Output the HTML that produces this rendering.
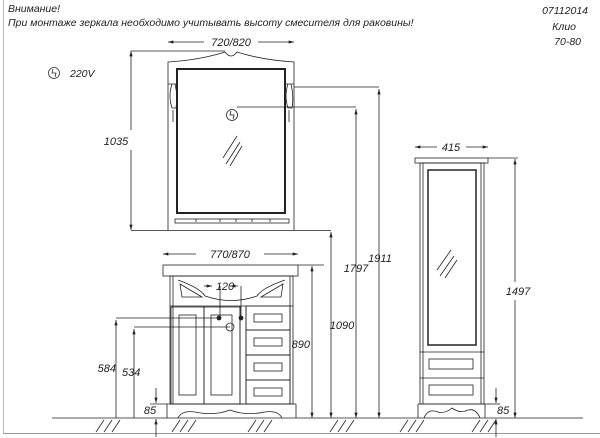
<!DOCTYPE html>
<html><head><meta charset="utf-8"><style>
html,body{margin:0;padding:0;background:#fff;}
svg{display:block}
text{font-family:"Liberation Sans",sans-serif;font-style:italic;fill:#222}
</style></head><body>
<svg width="600" height="438" viewBox="0 0 600 438" xmlns="http://www.w3.org/2000/svg">
<defs>
<marker id="a" viewBox="0 0 10 6" refX="10" refY="3" markerWidth="8" markerHeight="4" orient="auto-start-reverse"><path d="M0,0 L10,3 L0,6 z" fill="#222"/></marker>
</defs>
<line x1="3.5" y1="0" x2="3.5" y2="433" stroke="#bbb"/>
<line x1="3" y1="433.5" x2="600" y2="433.5" stroke="#999"/>
<text x="8" y="12" font-size="10.5">Внимание!</text>
<text x="8" y="26" font-size="10.5">При монтаже зеркала необходимо учитывать высоту смесителя для раковины!</text>
<text x="588" y="14" font-size="10.5" text-anchor="end">07112014</text>
<text x="576" y="30" font-size="10.5" text-anchor="end">Клио</text>
<text x="581" y="45" font-size="10.5" text-anchor="end">70-80</text>
<circle cx="54" cy="73" r="5.5" fill="none" stroke="#333" stroke-width="0.8"/>
<path d="M53,69 L52,73 L56,73 L55,77" fill="none" stroke="#333" stroke-width="0.8"/>
<text x="70" y="77" font-size="10.5">220V</text>
<g stroke="#222" fill="none" stroke-width="0.8">
<line x1="52" y1="418" x2="583" y2="418"/>
<path d="M96,432 l8,-12 M104,432 l8,-12 M112,432 l8,-12 M172,432 l8,-12 M180,432 l8,-12 M188,432 l8,-12 M248,432 l8,-12 M256,432 l8,-12 M264,432 l8,-12 M330,432 l8,-12 M338,432 l8,-12 M346,432 l8,-12 M400,432 l8,-12 M408,432 l8,-12 M416,432 l8,-12 M472,432 l8,-12 M480,432 l8,-12 M488,432 l8,-12"/>
<path d="M168,230 V62 Q200,60 225,52 Q231,60 237,52 Q262,60 294,62 V230"/>
<rect x="177" y="69" width="108" height="144" stroke-width="2"/>
<rect x="175" y="219" width="114" height="4"/>
<path d="M196,222 V219 M220,222 V219 M236,222 V219 M252,222 V219 M270,222 V219"/>
<path d="M168,84 h8 M172,84 q-4,12 0,24 h4 q2,-12 -1,-24 M286,84 h8 M288,84 q-4,12 0,24 h4 q2,-12 -1,-24 M173,110 v12 M289,110 v12"/>
<circle cx="232" cy="115" r="5.5"/>
<path d="M231,111 L230,115 L234,115 L233,119"/>
<path d="M223,158 l14,-22 M226,164 l14,-22 M230,166 l12,-20"/>
<line x1="168" y1="42" x2="204" y2="42" marker-start="url(#a)"/>
<line x1="258" y1="42" x2="294" y2="42" marker-end="url(#a)"/>
<line x1="131" y1="51" x2="225" y2="51"/>
<line x1="131" y1="51" x2="131" y2="130" marker-start="url(#a)"/>
<line x1="131" y1="150" x2="131" y2="230" marker-end="url(#a)"/>
<line x1="131" y1="230.5" x2="331" y2="230.5"/>
<line x1="294" y1="87" x2="379" y2="87"/>
<line x1="379" y1="89" x2="379" y2="418" marker-start="url(#a)" marker-end="url(#a)"/>
<line x1="237" y1="107" x2="356" y2="107"/>
<line x1="356" y1="109" x2="356" y2="418" marker-start="url(#a)" marker-end="url(#a)"/>
<line x1="331" y1="232" x2="331" y2="418" marker-start="url(#a)" marker-end="url(#a)"/>
<rect x="163" y="265" width="135" height="11"/>
<line x1="298" y1="265" x2="324" y2="265"/>
<line x1="312" y1="266" x2="312" y2="418" marker-start="url(#a)" marker-end="url(#a)"/>
<line x1="163" y1="254" x2="196" y2="254" marker-start="url(#a)"/>
<line x1="264" y1="254" x2="298" y2="254" marker-end="url(#a)"/>
<rect x="170" y="276" width="123" height="128"/>
<line x1="173" y1="276" x2="173" y2="404"/><line x1="290" y1="276" x2="290" y2="404"/>
<line x1="170" y1="306" x2="293" y2="306"/>
<path d="M178,280 Q200,288 205,296 Q231,305 257,296 Q262,288 285,280"/>
<path d="M180,284 L202,297 L182,297 z M283,284 L261,297 L281,297 z"/>
<line x1="204" y1="286" x2="212" y2="286" marker-end="url(#a)"/>
<line x1="230" y1="286" x2="238" y2="286" marker-start="url(#a)"/>
<line x1="220" y1="286" x2="220" y2="318"/><line x1="241" y1="286" x2="241" y2="317"/>
<rect x="171" y="307" width="33" height="97"/>
<rect x="179" y="315" width="17" height="80"/>
<rect x="204" y="307" width="36" height="97"/>
<rect x="211" y="315" width="21" height="80"/>
<line x1="240" y1="306" x2="240" y2="404"/><line x1="246" y1="306" x2="246" y2="404"/>
<rect x="246" y="306" width="44" height="24"/><rect x="254" y="314" width="28" height="8"/>
<rect x="246" y="330" width="44" height="25"/><rect x="254" y="338" width="28" height="8"/>
<rect x="246" y="355" width="44" height="25"/><rect x="254" y="363" width="28" height="8"/>
<rect x="246" y="380" width="44" height="24"/><rect x="254" y="388" width="28" height="8"/>
<circle cx="219" cy="318" r="2" fill="#222"/><circle cx="241" cy="318" r="2" fill="#222"/>
<circle cx="230" cy="327" r="4"/>
<path d="M167,404 V418 M296,404 V418 M167,404 H296"/>
<path d="M178,418 Q182,410 195,412 Q215,416 230,410 Q245,416 265,412 Q278,410 282,418"/>
<line x1="116" y1="318" x2="219" y2="318"/>
<line x1="116" y1="320" x2="116" y2="418" marker-start="url(#a)"/>
<line x1="134" y1="327" x2="230" y2="327"/>
<line x1="134" y1="329" x2="134" y2="418" marker-start="url(#a)"/>
<line x1="156" y1="388" x2="156" y2="403" marker-end="url(#a)"/>
<line x1="156" y1="437" x2="156" y2="419" marker-end="url(#a)"/>
<line x1="150" y1="404" x2="167" y2="404"/>
<rect x="415" y="158" width="73" height="5"/>
<rect x="420" y="163" width="64" height="241"/>
<line x1="423" y1="163" x2="423" y2="404"/><line x1="481" y1="163" x2="481" y2="404"/>
<rect x="428" y="170" width="48" height="175" stroke-width="1.5"/>
<path d="M437,270 l14,-20 M440,276 l14,-20 M445,278 l12,-18"/>
<line x1="420" y1="352" x2="484" y2="352"/>
<line x1="420" y1="378" x2="484" y2="378"/>
<rect x="429" y="359" width="44" height="10"/>
<rect x="429" y="385" width="44" height="10"/>
<path d="M418,404 V418 M485,404 V418 M418,404 H485"/>
<path d="M424,418 Q428,408 438,412 Q445,414 452,408 Q460,414 468,410 Q476,408 480,418"/>
<line x1="415" y1="147" x2="437" y2="147" marker-start="url(#a)"/>
<line x1="466" y1="147" x2="488" y2="147" marker-end="url(#a)"/>
<line x1="488" y1="158" x2="518" y2="158"/>
<line x1="515" y1="159" x2="515" y2="282" marker-start="url(#a)"/>
<line x1="515" y1="300" x2="515" y2="418" marker-end="url(#a)"/>
<line x1="496" y1="388" x2="496" y2="403" marker-end="url(#a)"/>
<line x1="496" y1="437" x2="496" y2="419" marker-end="url(#a)"/>
<line x1="485" y1="404" x2="500" y2="404"/>
</g>
<g font-size="11">
<text x="231" y="46" text-anchor="middle">720/820</text>
<text x="116" y="145" text-anchor="middle">1035</text>
<text x="230" y="258" text-anchor="middle">770/870</text>
<text x="225" y="290" text-anchor="middle">120</text>
<text x="310" y="348" text-anchor="end">890</text>
<text x="342" y="329" text-anchor="middle">1090</text>
<text x="356" y="272" text-anchor="middle">1797</text>
<text x="380" y="262" text-anchor="middle">1911</text>
<text x="518" y="295" text-anchor="middle">1497</text>
<text x="451" y="151" text-anchor="middle">415</text>
<text x="116" y="372" text-anchor="end">584</text>
<text x="122" y="376">534</text>
<text x="150" y="414" text-anchor="middle">85</text>
<text x="497" y="414">85</text>
</g>
</svg>
</body></html>
